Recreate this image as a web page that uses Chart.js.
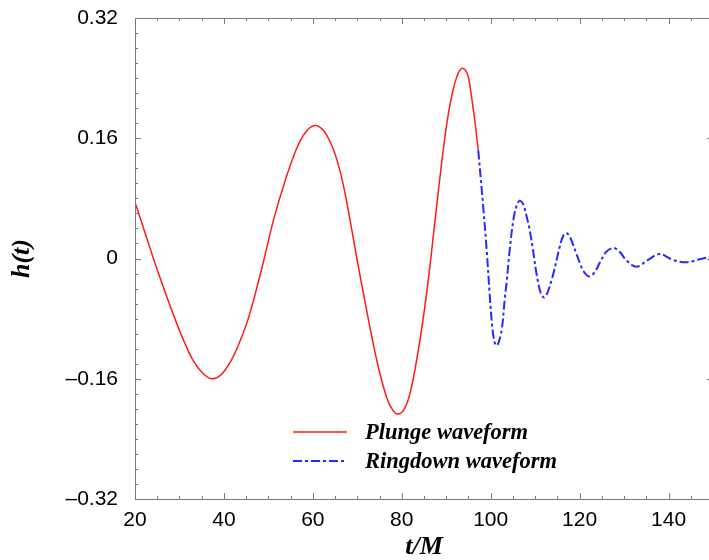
<!doctype html>
<html>
<head>
<meta charset="utf-8">
<title>h(t) plunge and ringdown</title>
<script src="https://cdn.jsdelivr.net/npm/chart.js@4.4.0/dist/chart.umd.min.js"></script>
<style>
html, body { margin: 0; padding: 0; background: #fff; overflow: hidden; }
#wrap { width: 720px; height: 560px; }
</style>
</head>
<body>
<div id="wrap"><canvas id="myChart" width="720" height="560"></canvas></div>
<script>
// plunge waveform (red, solid)
var plungeT = [20, 22, 24.2, 26.5, 29.1, 31.3, 33.2, 35.3, 37.3, 39.3, 41.4, 43.2, 45.2, 47, 48.9,
  51.1, 53.8, 56.4, 58.5, 60.5, 62.3, 63.9, 65.0, 66.1, 67.2, 68.4, 69.9, 72.1, 74.4, 76.6, 78, 79.2,
  80.5, 81.5, 82.3, 83.0, 84.5, 86.0, 87.1, 88.2, 89.4, 90.5, 91.6, 92.4, 93.0, 93.7, 94.4, 95.0, 95.7, 96.5, 97.2];
var plungeH = [0.075, 0.039, -0.001, -0.040, -0.082, -0.114, -0.137, -0.153, -0.160, -0.155, -0.138, -0.116, -0.085, -0.048, -0.004,
  0.050, 0.104, 0.147, 0.169, 0.177, 0.171, 0.155, 0.139, 0.117, 0.088, 0.050, 0.000, -0.069, -0.136, -0.185, -0.202, -0.207,
  -0.201, -0.187, -0.168, -0.147, -0.093, -0.027, 0.030, 0.088, 0.148, 0.193, 0.226, 0.242, 0.250, 0.253, 0.250, 0.241, 0.215, 0.180, 0.144];

// ringdown waveform (blue, dash-dot)
var ringT = [97.2, 98.3, 99.1, 99.8, 100.4, 100.9, 101.3, 101.7, 102.5, 103.2, 103.6, 104.3, 105.2, 106.0, 106.6,
  107.3, 108.0, 108.8, 109.6, 110.3, 111.2, 112.0, 112.8, 114.1, 115.5, 116.3, 117.0, 117.8, 119.3, 120.8,
  122.2, 123.4, 124.6, 126.0, 127.6, 129.0, 130.6, 132.8, 135.1, 138.0, 141.0, 144.0, 147.0, 150];
var ringH = [0.144, 0.070, 0.011, -0.050, -0.094, -0.112, -0.116, -0.113, -0.094, -0.051, -0.031, 0.013, 0.055, 0.073, 0.077,
  0.072, 0.058, 0.037, 0.008, -0.020, -0.045, -0.052, -0.045, -0.020, 0.015, 0.030, 0.034, 0.029, 0.006, -0.016,
  -0.024, -0.018, -0.005, 0.009, 0.014, 0.009, -0.003, -0.011, -0.003, 0.006, -0.002, -0.005, -0.001, 0.003];

var seriesNames = ['Plunge waveform', 'Ringdown waveform'];
var xTicks = [20, 40, 60, 80, 100, 120, 140];
var yTicks = [-0.32, -0.16, 0, 0.16, 0.32];

function pairs(ts, hs) {
  return ts.map(function (t, i) { return { x: t, y: hs[i] }; });
}

var labelFont = { family: 'Liberation Sans, Arial, sans-serif', size: 21 };
var titleFont = { family: 'Liberation Serif, Times New Roman, serif', size: 26, weight: 'bold', style: 'italic', lineHeight: 1 };

// frame with inward ticks on all four sides
var framePlugin = {
  id: 'frame',
  afterDatasetsDraw: function (chart) {
    var ctx = chart.ctx, a = chart.chartArea, xs = chart.scales.x, ys = chart.scales.y;
    ctx.save();
    ctx.strokeStyle = '#7a7a7a';
    ctx.lineWidth = 1;
    ctx.strokeRect(a.left + 0.5, a.top + 0.5, a.right - a.left, a.bottom - a.top);
    ctx.beginPath();
    for (var i = 0; i <= 26; i++) {
      var v = 20 + i * 5;
      var px = Math.round(xs.getPixelForValue(v)) + 0.5;
      var len = (i % 4 === 0) ? 6 : 3;
      ctx.moveTo(px, a.bottom); ctx.lineTo(px, a.bottom - len);
      ctx.moveTo(px, a.top); ctx.lineTo(px, a.top + len);
    }
    for (var j = -16; j <= 16; j++) {
      var py = Math.round(ys.getPixelForValue(j * 0.02)) + 0.5;
      var ln = (j % 8 === 0) ? 6 : 3;
      ctx.moveTo(a.left, py); ctx.lineTo(a.left + ln, py);
      ctx.moveTo(a.right, py); ctx.lineTo(a.right - ln, py);
    }
    ctx.stroke();
    ctx.restore();
  }
};

// legend inside the plot
var legendPlugin = {
  id: 'inLegend',
  afterDraw: function (chart) {
    var ctx = chart.ctx, a = chart.chartArea;
    var x0 = a.left + 158, x1 = a.left + 212, tx = a.left + 230;
    var rows = [a.top + 414, a.top + 443];
    ctx.save();
    ctx.font = 'italic bold 22.5px "Liberation Serif", "Times New Roman", serif';
    ctx.textBaseline = 'middle';
    ctx.fillStyle = '#000';
    chart.data.datasets.forEach(function (ds, k) {
      ctx.beginPath();
      ctx.strokeStyle = ds.borderColor;
      ctx.lineWidth = ds.borderWidth;
      ctx.setLineDash(ds.borderDash || []);
      ctx.moveTo(x0, rows[k]); ctx.lineTo(x1, rows[k]);
      ctx.stroke();
      ctx.setLineDash([]);
      ctx.fillText(ds.label, tx, rows[k] + 1);
    });
    ctx.restore();
  }
};

var ctx = document.getElementById('myChart').getContext('2d');
var chart = new Chart(ctx, {
  type: 'line',
  data: {
    datasets: [
      {
        label: seriesNames[0],
        data: pairs(plungeT, plungeH),
        borderColor: 'rgb(255, 25, 25)',
        borderWidth: 1.5,
        pointRadius: 0,
        tension: 0.35
      },
      {
        label: seriesNames[1],
        data: pairs(ringT, ringH),
        borderColor: 'rgb(40, 40, 255)',
        borderWidth: 2,
        borderDash: [9, 3, 3, 3],
        pointRadius: 0,
        tension: 0.35
      }
    ]
  },
  options: {
    responsive: false,
    animation: false,
    layout: { padding: { top: 18, right: 7, left: 0, bottom: 0 } },
    plugins: { legend: { display: false }, tooltip: { enabled: false } },
    scales: {
      x: {
        type: 'linear',
        min: 20, max: 150,
        grid: { display: false, drawTicks: false },
        border: { display: false },
        afterBuildTicks: function (s) { s.ticks = xTicks.map(function (v) { return { value: v }; }); },
        afterFit: function (s) { s.height = 61; s.paddingLeft = 0; s.paddingRight = 0; },
        ticks: { color: '#000', font: labelFont, padding: 9, maxRotation: 0 },
        title: { display: true, text: 't/M', color: '#000', font: titleFont, padding: { top: 0, bottom: 0 } }
      },
      y: {
        min: -0.32, max: 0.32,
        grid: { display: false, drawTicks: false },
        border: { display: false },
        afterBuildTicks: function (s) { s.ticks = yTicks.map(function (v) { return { value: v }; }); },
        afterFit: function (s) { s.width = 135; s.paddingTop = 0; s.paddingBottom = 0; },
        ticks: {
          color: '#000', font: labelFont, padding: 17,
          callback: function (v) {
            if (Math.abs(v) < 1e-9) return '0';
            return (v < 0 ? '\u2013' : '') + Math.abs(v).toFixed(2);
          }
        },
        title: { display: true, text: 'h(t)', color: '#000', font: titleFont, padding: { top: 9, bottom: 0 } }
      }
    }
  },
  plugins: [framePlugin, legendPlugin]
});
</script>
</body>
</html>
